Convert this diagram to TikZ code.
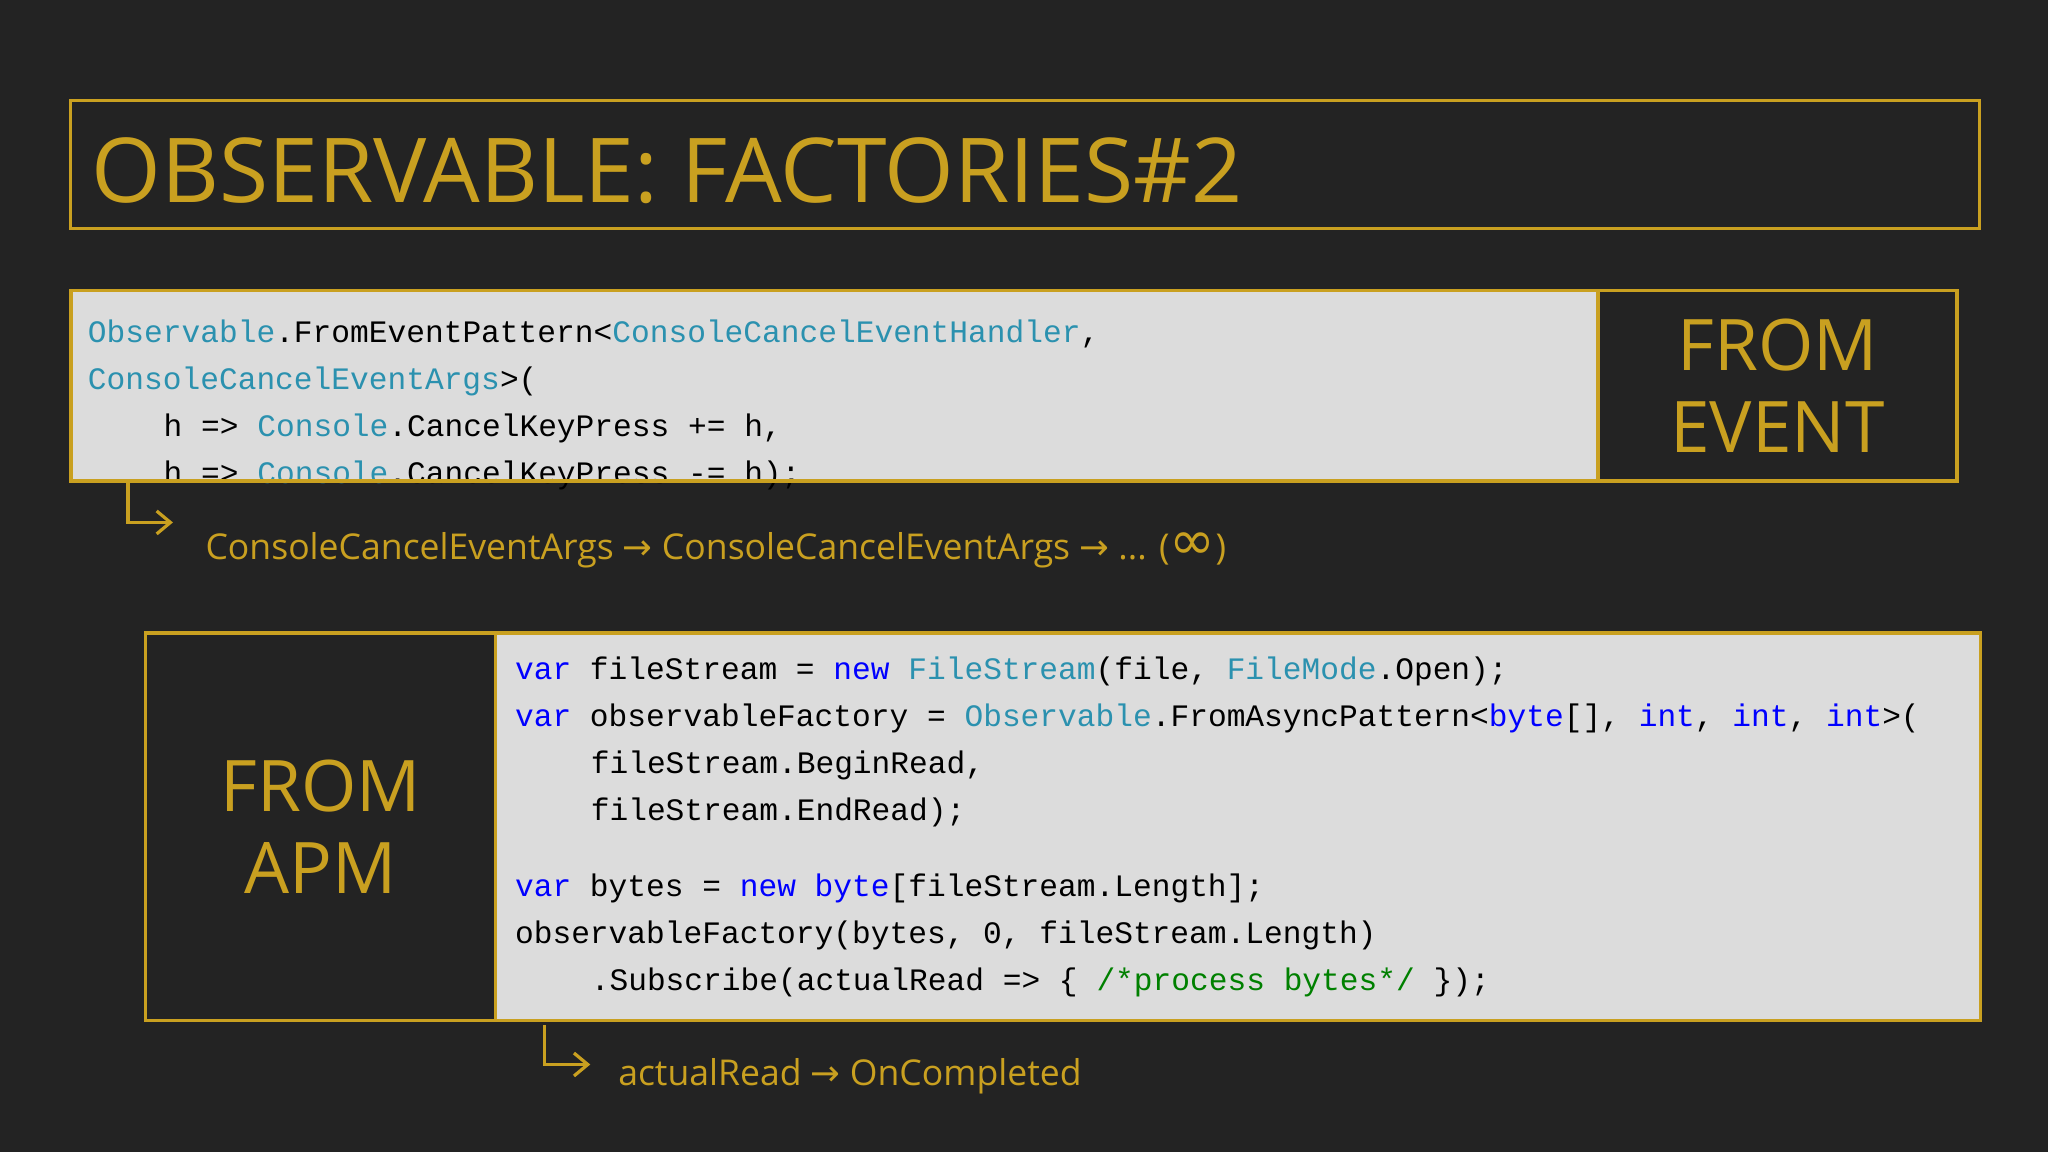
\documentclass[tikz,border=0pt]{standalone}
\usepackage{fontspec}
\setmainfont{Open Sans}
\newfontfamily\codef{Liberation Mono}
\newfontfamily\symf{DejaVu Sans}
\usetikzlibrary{arrows.meta}
\definecolor{bg}{HTML}{232323}
\definecolor{gold}{HTML}{C9A020}
\definecolor{codebg}{HTML}{DCDCDC}
\definecolor{tyc}{HTML}{2B91AF}
\definecolor{kwc}{HTML}{0000FF}
\definecolor{cmc}{HTML}{008000}
\newcommand{\ty}[1]{\textcolor{tyc}{#1}}
\newcommand{\kw}[1]{\textcolor{kwc}{#1}}
\newcommand{\cm}[1]{\textcolor{cmc}{#1}}
\tikzset{
 codeline/.style={anchor=west,inner sep=0pt,font=\codef\fontsize{13.6pt}{16pt}\selectfont,text=black},
 bigl/.style={text=gold,font=\fontsize{31pt}{36pt}\selectfont,align=center,inner sep=0pt},
 note/.style={anchor=west,inner sep=0pt,text=gold,font=\fontsize{15.5pt}{18pt}\selectfont},
 goldbox/.style={draw=gold,line width=1.6pt},
 elbow/.style={draw=gold,line width=1.4pt,-{Straight Barb[length=6pt,width=10pt]}}
}
\begin{document}
\begin{tikzpicture}[x=0.02cm,y=-0.02cm]
\fill[bg] (0,0) rectangle (1568,882);
\useasboundingbox (0,0) rectangle (1568,882);
% title
\node[draw=gold,line width=1pt,minimum width=29.24cm,minimum height=1.96cm,anchor=north west,inner sep=0pt] (titlebox) at (53,76) {};
\node[anchor=west,inner sep=0pt,text=gold,font=\fontsize{39pt}{44pt}\selectfont] (title) at (70,131) {OBSERVABLE: FACTORIES\#2};
% box 1
\fill[codebg] (53,221) rectangle (1222,367);
\node[codeline] (l1) at (67,256) {\ty{Observable}.FromEventPattern<\ty{ConsoleCancelEventHandler},};
\node[codeline] (l2) at (67,292) {\ty{ConsoleCancelEventArgs}>(};
\node[codeline] (l3) at (125,328) {h => \ty{Console}.CancelKeyPress += h,};
\node[codeline] (l4) at (125,364) {h => \ty{Console}.CancelKeyPress -= h);};
\node[goldbox,anchor=north west,minimum width=23.38cm,minimum height=2.92cm,inner sep=0pt] (code1) at (53,221) {};
\node[goldbox,anchor=north west,minimum width=5.5cm,minimum height=2.92cm,inner sep=0pt] (ev) at (1222,221) {};
\node[bigl] (evt) at (ev.center) {FROM\\EVENT};
\coordinate (a1s) at (98,370);
\coordinate (a1c) at (98,400);
\node[note] (n1) at (157,421) {ConsoleCancelEventArgs {\symf →} ConsoleCancelEventArgs {\symf →} ... ({\symf\fontsize{24pt}{24pt}\selectfont ∞})};
\draw[elbow] (a1s) -- (a1c) -- ([xshift=-14pt]n1.west |- a1c);
% box 2
\fill[codebg] (378,483) rectangle (1515,780);
\node[codeline] (m1) at (394,514) {\kw{var} fileStream = \kw{new} \ty{FileStream}(file, \ty{FileMode}.Open);};
\node[codeline] (m2) at (394,550) {\kw{var} observableFactory = \ty{Observable}.FromAsyncPattern<\kw{byte}[], \kw{int}, \kw{int}, \kw{int}>(};
\node[codeline] (m3) at (452,586) {fileStream.BeginRead,};
\node[codeline] (m4) at (452,622) {fileStream.EndRead);};
\node[codeline] (m5) at (394,680) {\kw{var} bytes = \kw{new} \kw{byte}[fileStream.Length];};
\node[codeline] (m6) at (394,716) {observableFactory(bytes, 0, fileStream.Length)};
\node[codeline] (m7) at (452,752) {.Subscribe(actualRead => \{ \cm{/*process bytes*/} \});};
\node[goldbox,anchor=north west,minimum width=22.74cm,minimum height=5.94cm,inner sep=0pt] (code2) at (378,483) {};
\node[goldbox,anchor=north west,minimum width=5.36cm,minimum height=5.94cm,inner sep=0pt] (apm) at (110,483) {};
\node[bigl] (apmt) at (apm.center) {FROM\\APM};
\coordinate (a2s) at (417,785);
\coordinate (a2c) at (417,815);
\node[note] (n2) at (473,824) {actualRead {\symf →} OnCompleted};
\draw[elbow] (a2s) -- (a2c) -- ([xshift=-12pt]n2.west |- a2c);
\end{tikzpicture}
\end{document}
